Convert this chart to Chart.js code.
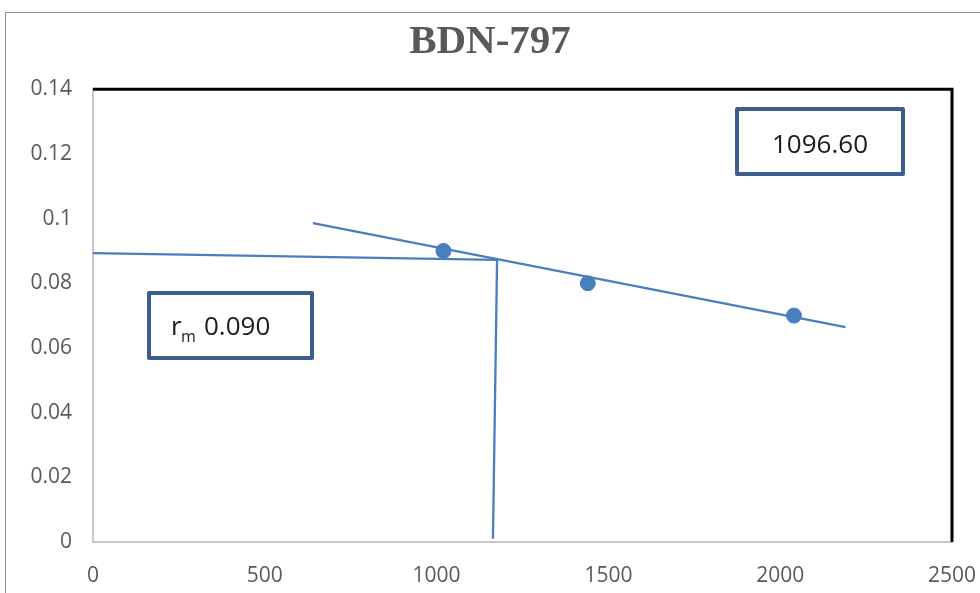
<!DOCTYPE html>
<html>
<head>
<meta charset="utf-8">
<script src="https://cdn.jsdelivr.net/npm/chart.js@4/dist/chart.umd.min.js"></script>
<style>
  html, body { margin: 0; padding: 0; background: #fff; }
  canvas { display: block; }
</style>
</head>
<body>
<canvas id="chart" width="980" height="593"></canvas>
<script>
// measured points
const pointX = [1020, 1440, 2040];
const pointY = [0.090, 0.080, 0.070];

// fitted trend line
const trendX = [640, 2190];
const trendY = [0.0986, 0.0664];

// construction lines (horizontal from axis, vertical drop)
const hLineX = [0, 1176];
const hLineY = [0.0893, 0.0872];
const vLineX = [1176, 1164];
const vLineY = [0.0872, 0.001];

const xTicks = [0, 500, 1000, 1500, 2000, 2500];
const yTicks = [0, 0.02, 0.04, 0.06, 0.08, 0.1, 0.12, 0.14];

const title = "BDN-797";
const boxValue = "1096.60";
const boxRm = "0.090";

const blue = "#4a7ebf";
const boxBlue = "#3b5e8c";
const tickGray = "#595959";

const toXY = (xs, ys) => xs.map((x, i) => ({ x: x, y: ys[i] }));

const frame = {
    id: "frame",
    beforeDraw(chart) {
        const ctx = chart.ctx;
        ctx.save();
        ctx.strokeStyle = "#8c8c8c";
        ctx.lineWidth = 1;
        ctx.beginPath();
        ctx.moveTo(5.5, 600);
        ctx.lineTo(5.5, 12.5);
        ctx.lineTo(990, 12.5);
        ctx.stroke();
        ctx.restore();
    },
    afterDraw(chart) {
        const ctx = chart.ctx;
        const a = chart.chartArea;
        ctx.save();
        // black top and right edge of the plot area
        ctx.strokeStyle = "#000";
        ctx.lineWidth = 3;
        ctx.beginPath();
        ctx.moveTo(a.left, a.top);
        ctx.lineTo(a.right, a.top);
        ctx.lineTo(a.right, a.bottom);
        ctx.stroke();

        // text boxes
        const drawBox = (l, t, r, b) => {
            ctx.strokeStyle = boxBlue;
            ctx.lineWidth = 4;
            ctx.lineJoin = "round";
            ctx.strokeRect(l + 2, t + 2, r - l - 4, b - t - 4);
        };
        drawBox(735, 107, 905, 176);
        drawBox(147, 291, 314, 360);

        ctx.fillStyle = "#1a1a1a";
        ctx.textBaseline = "alphabetic";
        ctx.font = "26px 'Open Sans'";
        ctx.textAlign = "center";
        ctx.fillText(boxValue, 820, 153);

        ctx.textAlign = "left";
        ctx.font = "26px 'Open Sans'";
        ctx.fillText("r", 171, 335);
        ctx.font = "16px 'Open Sans'";
        ctx.fillText("m", 181, 342);
        ctx.font = "26px 'Open Sans'";
        ctx.fillText(boxRm, 204, 335);
        ctx.restore();
    }
};

const lineSet = (xs, ys) => ({
    data: toXY(xs, ys),
    showLine: true,
    borderColor: blue,
    borderWidth: 2.3,
    pointRadius: 0,
    fill: false
});

new Chart(document.getElementById("chart"), {
    type: "scatter",
    data: {
        datasets: [
            {
                data: toXY(pointX, pointY),
                backgroundColor: blue,
                borderColor: blue,
                pointRadius: 7.5,
                pointHoverRadius: 7.5
            },
            lineSet(trendX, trendY),
            lineSet(hLineX, hLineY),
            lineSet(vLineX, vLineY)
        ]
    },
    options: {
        responsive: false,
        animation: false,
        layout: { padding: 0 },
        plugins: {
            legend: { display: false },
            tooltip: { enabled: false },
            title: {
                display: true,
                text: title,
                color: tickGray,
                font: { family: "'Liberation Serif', serif", size: 41, weight: "bold" },
                padding: { top: 18, bottom: 22 }
            }
        },
        scales: {
            x: {
                type: "linear",
                min: 0,
                max: 2500,
                afterBuildTicks: (s) => { s.ticks = xTicks.map((v) => ({ value: v })); },
                afterFit: (s) => { s.height = 51; s.paddingRight = 28; },
                grid: { display: false, drawTicks: false },
                border: { display: true, color: "#c8c8c8", width: 2 },
                ticks: {
                    color: tickGray,
                    padding: 21,
                    maxRotation: 0,
                    font: { family: "'Open Sans'", size: 21 },
                    callback: (v) => String(v)
                }
            },
            y: {
                min: 0,
                max: 0.14,
                afterBuildTicks: (s) => { s.ticks = yTicks.map((v) => ({ value: v })); },
                afterFit: (s) => { s.width = 93; },
                grid: { display: false, drawTicks: false },
                border: { display: true, color: "#c8c8c8", width: 2 },
                ticks: {
                    color: tickGray,
                    padding: 21,
                    font: { family: "'Open Sans'", size: 21 },
                    callback: (v) => String(Math.round(v * 100) / 100)
                }
            }
        }
    },
    plugins: [frame]
});
</script>
</body>
</html>
